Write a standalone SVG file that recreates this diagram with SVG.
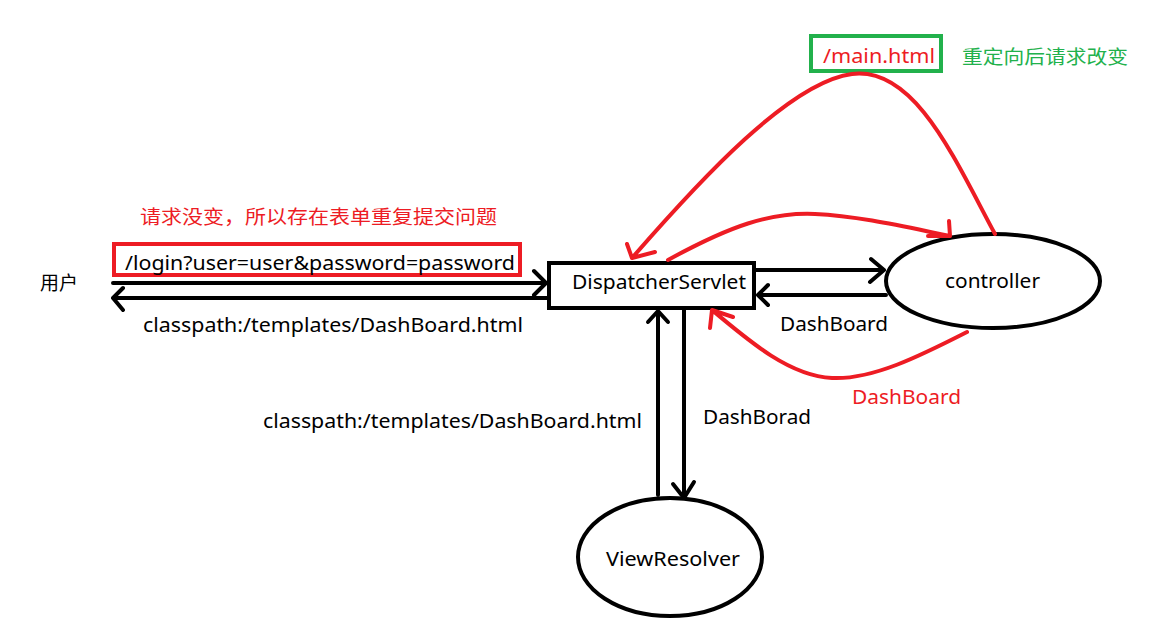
<svg xmlns="http://www.w3.org/2000/svg" width="1165" height="637" viewBox="0 0 1165 637">
<style>
.t{font-family:"Noto Sans","Liberation Sans","Noto Sans CJK SC",sans-serif;font-size:19px;fill:#000}
.cn{font-family:"Noto Sans CJK SC","Noto Sans",sans-serif;font-size:19px}
.red{fill:#ed1c24}
.green{fill:#22b14c}
.blk{fill:none;stroke:#000;stroke-width:4;stroke-linecap:round;stroke-linejoin:round}
.rl{fill:none;stroke:#ed1c24;stroke-width:4;stroke-linecap:round;stroke-linejoin:round}
</style>
<rect width="1165" height="637" fill="#fff"/>
<g id="user"><text class="cn" x="40" y="290" fill="#000" font-size="20">用户</text></g>
<g id="note-red"><text class="cn red" x="140" y="224" textLength="357" lengthAdjust="spacingAndGlyphs">请求没变，所以存在表单重复提交问题</text></g>
<g id="login-box">
<rect x="114" y="244" width="406" height="31" fill="none" stroke="#ed1c24" stroke-width="4"/>
<text class="t" x="125" y="270" textLength="390" lengthAdjust="spacingAndGlyphs">/login?user=user&amp;password=password</text>
</g>
<g id="dispatcher">
<rect x="549" y="263" width="205" height="45" fill="#fff" stroke="#000" stroke-width="4"/>
<text class="t" x="572" y="289" textLength="174" lengthAdjust="spacingAndGlyphs">DispatcherServlet</text>
</g>
<g id="controller">
<ellipse cx="993" cy="281" rx="107" ry="47" fill="none" stroke="#000" stroke-width="4"/>
<text class="t" x="945" y="288" textLength="95" lengthAdjust="spacingAndGlyphs">controller</text>
</g>
<g id="viewresolver">
<ellipse cx="670" cy="557" rx="92" ry="59" fill="none" stroke="#000" stroke-width="4"/>
<text class="t" x="606" y="566" textLength="134" lengthAdjust="spacingAndGlyphs">ViewResolver</text>
</g>
<g id="main-box">
<rect x="811" y="36" width="130" height="35" fill="none" stroke="#22b14c" stroke-width="4"/>
<text class="t red" x="823" y="63" textLength="112" lengthAdjust="spacingAndGlyphs">/main.html</text>
</g>
<g id="note-green"><text class="cn green" x="962" y="64" textLength="166" lengthAdjust="spacingAndGlyphs">重定向后请求改变</text></g>
<g id="connectors">
<path class="blk" d="M113 283 H545 M534 271 L546 283 L534 295"/>
<path class="blk" d="M547 298 H113 M123 288 L113 298 L123 310"/>
<path class="blk" d="M756 270 H884 M871 259 L884 270 L870 282"/>
<path class="blk" d="M886 295 H758 M768 285 L758 295 L768 305"/>
<path class="blk" d="M658 495 V311 M648 322 L658 311 L668 322"/>
<path class="blk" d="M684 310 V498 M673 484 L684 498 L694 482"/>
<path class="rl" d="M995 234 C955 160 915 66 852 74 C790 82 700 180 632 258 M627 244 L632 258 L655 252"/>
<path class="rl" d="M668 260 C730 226 770 212 815 214 C860 216 910 228 950 236 M949 221 L950 236 L928 236"/>
<path class="rl" d="M967 332 C920 356 872 380 832 378 C790 376 750 342 712 310 M710 328 L712 310 L733 317"/>
</g>
<g id="labels">
<text class="t" x="143" y="332" textLength="380" lengthAdjust="spacingAndGlyphs">classpath:/templates/DashBoard.html</text>
<text class="t" x="263" y="428" textLength="379" lengthAdjust="spacingAndGlyphs">classpath:/templates/DashBoard.html</text>
<text class="t" x="780" y="331" textLength="108" lengthAdjust="spacingAndGlyphs">DashBoard</text>
<text class="t" x="703" y="424" textLength="108" lengthAdjust="spacingAndGlyphs">DashBorad</text>
<text class="t red" x="852" y="404" textLength="109" lengthAdjust="spacingAndGlyphs">DashBoard</text>
</g>
</svg>
